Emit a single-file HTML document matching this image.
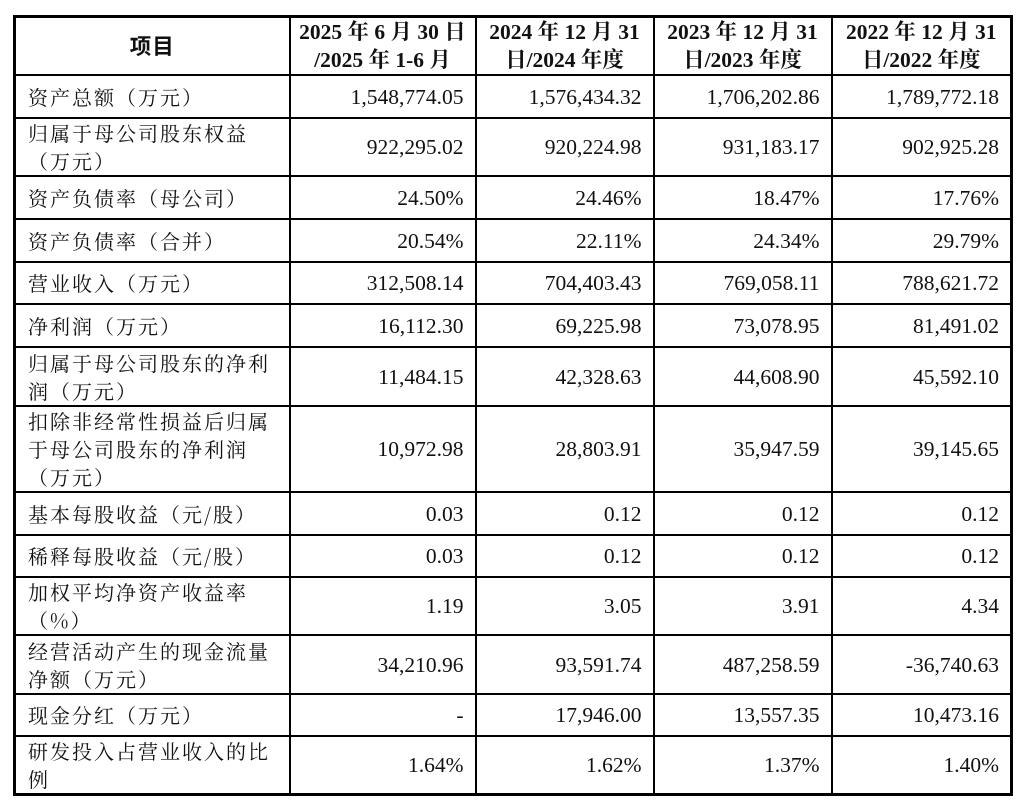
<!DOCTYPE html>
<html><head><meta charset="utf-8"><style>
html,body{margin:0;padding:0;background:#fff;width:1023px;height:801px;overflow:hidden}
table{position:absolute;left:13px;top:15px;border-collapse:collapse;table-layout:fixed;width:997px;
font-family:"Liberation Serif","Noto Serif CJK SC",serif;font-size:21.5px;color:#111}
td{border:2px solid #000;padding:0 11px 0 12px;line-height:26px;vertical-align:middle;text-align:right;white-space:nowrap}
td:first-child{text-align:left;padding-left:12px;white-space:normal;font-family:"Noto Serif CJK SC","Liberation Serif",serif;font-size:20px;letter-spacing:2px;line-height:28px}
tr.h td{text-align:center;font-weight:bold;padding:0 4px;line-height:28px;font-size:21.5px}
tr.h td:first-child{text-align:center;font-family:"Noto Sans CJK SC",sans-serif;font-weight:bold;letter-spacing:1px}
table{border:3px solid #000}
</style></head><body>
<table>
<colgroup><col style="width:275px"><col style="width:186px"><col style="width:178px"><col style="width:178px"><col style="width:180px"></colgroup>
<tr class="h" style="height:58px"><td>项目</td><td>2025 年 6 月 30 日<br>/2025 年 1-6 月</td><td>2024 年 12 月 31<br>日/2024 年度</td><td>2023 年 12 月 31<br>日/2023 年度</td><td>2022 年 12 月 31<br>日/2022 年度</td></tr>
<tr style="height:43px"><td>资产总额（万元）</td><td>1,548,774.05</td><td>1,576,434.32</td><td>1,706,202.86</td><td>1,789,772.18</td></tr>
<tr style="height:58px"><td>归属于母公司股东权益（万元）</td><td>922,295.02</td><td>920,224.98</td><td>931,183.17</td><td>902,925.28</td></tr>
<tr style="height:43px"><td>资产负债率（母公司）</td><td>24.50%</td><td>24.46%</td><td>18.47%</td><td>17.76%</td></tr>
<tr style="height:43px"><td>资产负债率（合并）</td><td>20.54%</td><td>22.11%</td><td>24.34%</td><td>29.79%</td></tr>
<tr style="height:42px"><td>营业收入（万元）</td><td>312,508.14</td><td>704,403.43</td><td>769,058.11</td><td>788,621.72</td></tr>
<tr style="height:43px"><td>净利润（万元）</td><td>16,112.30</td><td>69,225.98</td><td>73,078.95</td><td>81,491.02</td></tr>
<tr style="height:59px"><td>归属于母公司股东的净利润（万元）</td><td>11,484.15</td><td>42,328.63</td><td>44,608.90</td><td>45,592.10</td></tr>
<tr style="height:85px"><td>扣除非经常性损益后归属于母公司股东的净利润（万元）</td><td>10,972.98</td><td>28,803.91</td><td>35,947.59</td><td>39,145.65</td></tr>
<tr style="height:43px"><td>基本每股收益（元/股）</td><td>0.03</td><td>0.12</td><td>0.12</td><td>0.12</td></tr>
<tr style="height:42px"><td>稀释每股收益（元/股）</td><td>0.03</td><td>0.12</td><td>0.12</td><td>0.12</td></tr>
<tr style="height:56px"><td>加权平均净资产收益率（%）</td><td>1.19</td><td>3.05</td><td>3.91</td><td>4.34</td></tr>
<tr style="height:59px"><td>经营活动产生的现金流量净额（万元）</td><td>34,210.96</td><td>93,591.74</td><td>487,258.59</td><td>-36,740.63</td></tr>
<tr style="height:42px"><td>现金分红（万元）</td><td>-</td><td>17,946.00</td><td>13,557.35</td><td>10,473.16</td></tr>
<tr style="height:58px"><td>研发投入占营业收入的比例</td><td>1.64%</td><td>1.62%</td><td>1.37%</td><td>1.40%</td></tr>
</table>
</body></html>
